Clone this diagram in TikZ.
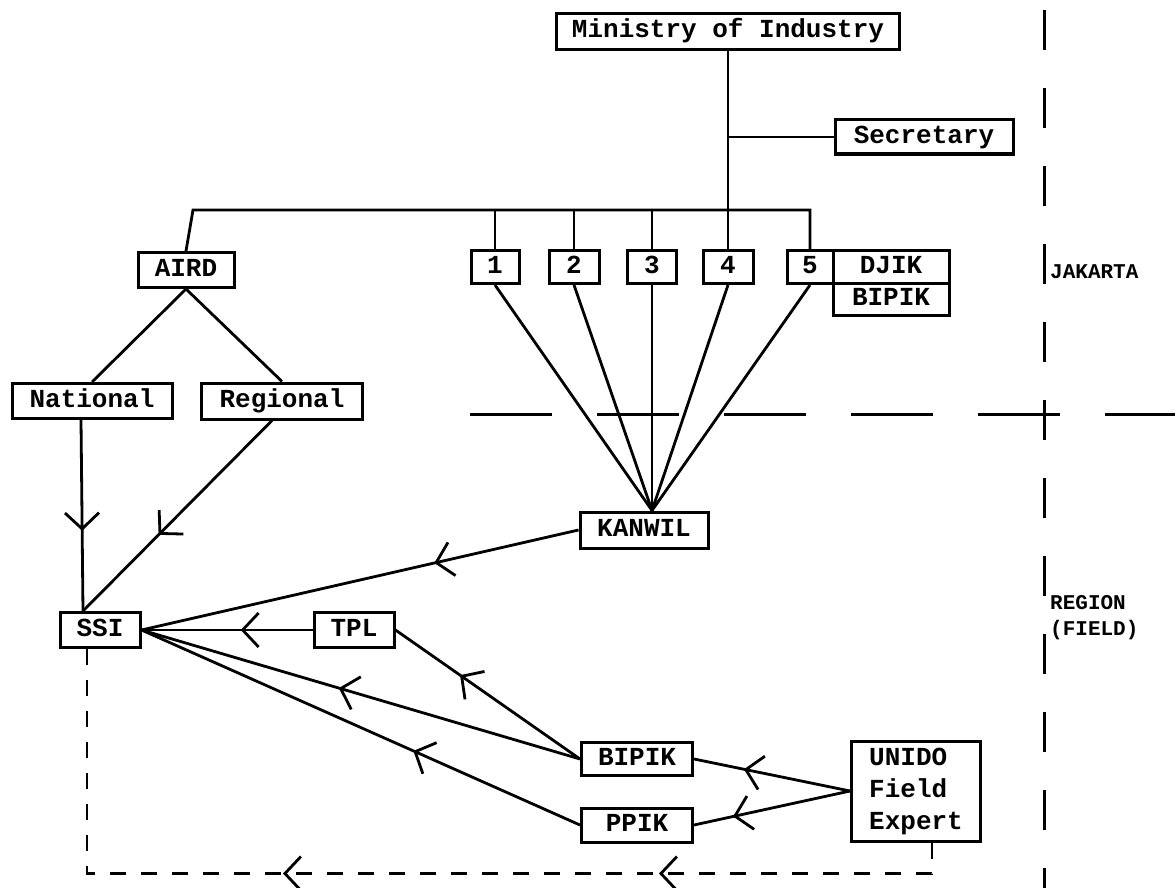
\documentclass[tikz,border=0pt]{standalone}
\usepackage{fontspec}
\setmonofont{Liberation Mono}
\usetikzlibrary{arrows.meta,decorations.markings}

\begin{document}
\begin{tikzpicture}[x=1pt,y=-1pt,
    flow/.style={postaction={decorate},decoration={markings,
      mark=at position #1 with {\arrow{Straight Barb[length=16pt,width=34pt,line width=2.8pt]}}}}]
	\tikzstyle{frame}=[draw,line width=3pt,inner sep=0pt,font=\fontsize{26}{32}\selectfont\ttfamily\bfseries]
	\tikzstyle{box}=[frame,text height=17pt,text depth=5pt]
	\tikzstyle{link}=[line width=2.8pt]
	\tikzstyle{feedback}=[line width=2.8pt,dash pattern=on 16pt off 15pt]
	\tikzstyle{border}=[line width=3pt]
	\tikzstyle{place}=[anchor=west,align=left,inner sep=0pt,font=\fontsize{21}{26}\selectfont\ttfamily\bfseries]
	\useasboundingbox (0,0) rectangle (1175,888);
	% Jakarta level
	\node (ministry) at (728,32) [box,minimum width=343pt,minimum height=36pt] {Ministry of Industry};
	\node (secretary) at (924,137) [box,minimum width=178pt,minimum height=34pt] {Secretary};
	\node (aird) at (186,270) [box,minimum width=96pt,minimum height=35pt] {AIRD};
	\node (n1) at (495,267) [box,minimum width=48pt,minimum height=33pt] {1};
	\node (n2) at (574,267) [box,minimum width=50pt,minimum height=33pt] {2};
	\node (n3) at (652,267) [box,minimum width=49pt,minimum height=33pt] {3};
	\node (n4) at (728,267) [box,minimum width=50pt,minimum height=33pt] {4};
	\node (n5) at (810,267) [box,minimum width=46pt,minimum height=33pt] {5};
	\node (djik) at (891,267) [box,minimum width=116pt,minimum height=33pt] {DJIK};
	\node (bipikhq) at (891,299) [box,minimum width=116pt,minimum height=32pt] {BIPIK};
	\node (national) at (92,401) [box,minimum width=160pt,minimum height=35pt] {National};
	\node (regional) at (282,401) [box,minimum width=161pt,minimum height=36pt] {Regional};
	% region level
	\node (kanwil) at (644,530) [box,minimum width=128pt,minimum height=36pt] {KANWIL};
	\node (ssi) at (100,630) [box,minimum width=80pt,minimum height=35pt] {SSI};
	\node (tpl) at (354,630) [box,minimum width=80pt,minimum height=35pt] {TPL};
	\node (bipik) at (637,759) [box,minimum width=111pt,minimum height=33pt] {BIPIK};
	\node (ppik) at (637,825) [box,minimum width=111pt,minimum height=34pt] {PPIK};
	\node (unido) at (916,791) [frame,align=left,minimum width=129pt,minimum height=100pt] {UNIDO\\Field\\Expert};
	\node (jakarta) at (1050,272) [place] {JAKARTA};
	\node (region) at (1050,618) [place] {REGION\\(FIELD)};
	% hierarchy
	\coordinate (barL) at (193,210);
	\draw [link] (ministry) -- (n4);
	\draw [link] (ministry.south |- secretary.west) -- (secretary.west);
	\draw [link] (aird.north) -- (barL) -- (barL -| n5.north) -- (n5.north);
	\foreach \n in {n1,n2,n3}
		\draw [link] (\n.north) -- (\n.north |- barL);
	\foreach \n in {n1,n2,n3,n4,n5}
		\draw [link] (\n.south) -- ([xshift=8pt]kanwil.north);
	\draw [link] (aird.south) -- (national.north);
	\draw [link] (aird.south) -- (regional.north);
	% flows into SSI
	\draw [link,flow=0.58] ([xshift=-11pt]national.south) -- ([xshift=-17pt]ssi.north);
	\draw [link,flow=0.6] ([xshift=-10pt]regional.south) -- ([xshift=-17pt]ssi.north);
	\draw [link,flow=0.33] (kanwil.west) -- (ssi.east);
	\draw [link,flow=0.42] (tpl.west)    -- (ssi.east);
	\draw [link,flow=0.55] (bipik.west)  -- (ssi.east);
	\draw [link,flow=0.65] (bipik.west)  -- (tpl.east);
	\draw [link,flow=0.38] (ppik.west)   -- (ssi.east);
	\draw [link,flow=0.68] (unido.west)  -- (bipik.east);
	\draw [link,flow=0.75] (unido.west)  -- (ppik.east);
	\draw [feedback,postaction={decorate},decoration={markings,
		mark=at position 304pt with {\arrow{Straight Barb[length=16pt,width=34pt,line width=2.8pt]}},
		mark=at position 680pt with {\arrow{Straight Barb[length=16pt,width=34pt,line width=2.8pt]}}}]
		([xshift=16pt]unido.south) -- ++(0,31) -| ([xshift=-13pt]ssi.south);
	% Jakarta / region borders
	\draw [border,dash pattern=on 40pt off 38pt] (1044,10) -- (1044,888);
	\draw [border,dash pattern=on 82pt off 45pt] (470,414) -- (1175,414);
\end{tikzpicture}
\end{document}
